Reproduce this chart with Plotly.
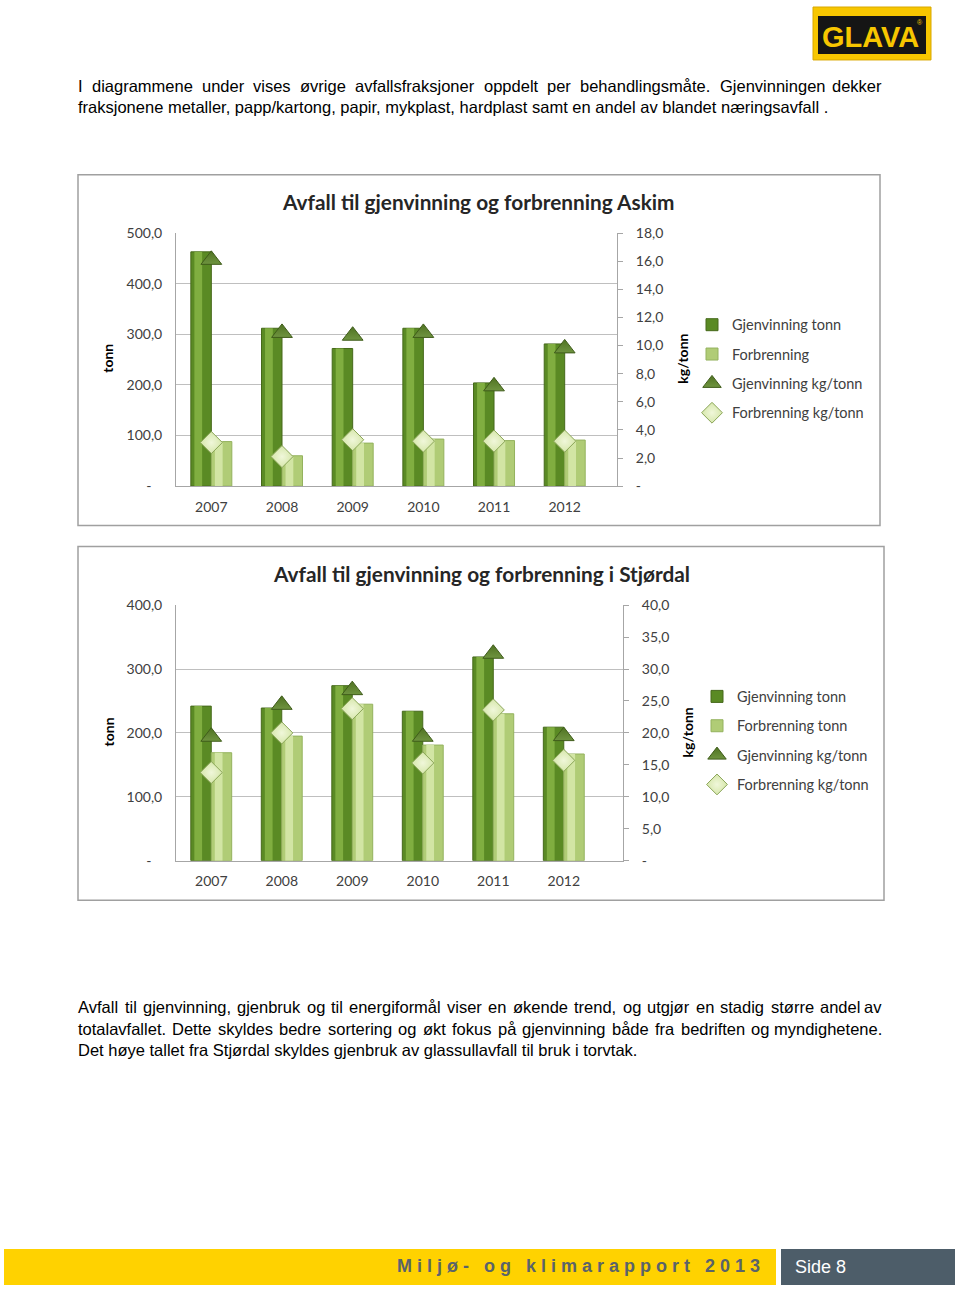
import plotly.graph_objects as go

# ---------------- data ----------------
years = ["2007", "2008", "2009", "2010", "2011", "2012"]

askim_gjen_tonn = [463, 312, 272, 312, 204, 281]
askim_forb_tonn = [88, 60, 85, 93, 90, 91]
askim_gjen_kg = [16.1, 10.9, 10.7, 10.9, 7.1, 9.8]
askim_forb_kg = [3.1, 2.1, 3.3, 3.2, 3.2, 3.2]

stj_gjen_tonn = [242, 239, 274, 234, 319, 209]
stj_forb_tonn = [169, 195, 245, 181, 230, 167]
stj_gjen_kg = [19.4, 24.4, 26.7, 19.4, 32.4, 19.5]
stj_forb_kg = [13.8, 20.0, 23.8, 15.3, 23.6, 15.7]

askim_left_vals = [0, 100, 200, 300, 400, 500]
askim_left_text = ["-\u00a0\u00a0\u00a0", "100,0", "200,0", "300,0", "400,0", "500,0"]
askim_right_vals = [0, 2, 4, 6, 8, 10, 12, 14, 16, 18]
askim_right_text = ["-", "2,0", "4,0", "6,0", "8,0", "10,0", "12,0", "14,0", "16,0", "18,0"]

stj_left_vals = [0, 100, 200, 300, 400]
stj_left_text = ["-\u00a0\u00a0\u00a0", "100,0", "200,0", "300,0", "400,0"]
stj_right_vals = [0, 5, 10, 15, 20, 25, 30, 35, 40]
stj_right_text = ["-", "5,0", "10,0", "15,0", "20,0", "25,0", "30,0", "35,0", "40,0"]

legend_askim = ["Gjenvinning tonn", "Forbrenning", "Gjenvinning kg/tonn", "Forbrenning kg/tonn"]
legend_stj = ["Gjenvinning tonn", "Forbrenning tonn", "Gjenvinning kg/tonn", "Forbrenning kg/tonn"]

para_top = [
    "I diagrammene under vises øvrige avfallsfraksjoner oppdelt per behandlingsmåte. Gjenvinningen dekker",
    "fraksjonene metaller, papp/kartong, papir, mykplast, hardplast samt en andel av blandet næringsavfall .",
]
para_bottom = [
    "Avfall til gjenvinning, gjenbruk og til energiformål viser en økende trend, og utgjør en stadig større andel av",
    "totalavfallet. Dette skyldes bedre sortering og økt fokus på gjenvinning både fra bedriften og myndighetene.",
    "Det høye tallet fra Stjørdal skyldes gjenbruk av glassullavfall til bruk i torvtak.",
]

W, H = 960, 1290
# vertical placement helper (target positions measured on the page)
YOFF, YSC = 8.0, 0.9876
def px(x): return x / W
def py(y): return 1 - ((y - YOFF) / YSC) / H

DARK = "#5a8a24"
DARK_IN = "#80ae40"
DARK_LINE = "#46691b"
LIGHT = "#b0cc76"
LIGHT_IN = "#d2e5a4"
LIGHT_LINE = "#94b25e"
TRI = "#4f7222"
DIA = "#d6e7ab"

CHART_FONT = "Lato"
TICK_FONT = dict(family=CHART_FONT, size=14, color="#404040")

fig = go.Figure()

BW = 0.29

def add_chart(xa, ya, ya2, g_t, f_t, g_k, f_k, names, legend):
    fig.add_trace(go.Bar(x=years, y=g_t, width=BW, offset=-BW, xaxis=xa, yaxis=ya,
                         marker=dict(color=DARK, line=dict(color=DARK_LINE, width=1)),
                         name=names[0], legend=legend, legendgroup=legend + "a", hoverinfo="skip"))
    fig.add_trace(go.Bar(x=years, y=g_t, width=0.11, offset=-BW + 0.05, xaxis=xa, yaxis=ya,
                         marker=dict(color=DARK_IN, line=dict(width=0)),
                         showlegend=False, legend=legend, hoverinfo="skip"))
    fig.add_trace(go.Bar(x=years, y=f_t, width=BW, offset=0, xaxis=xa, yaxis=ya,
                         marker=dict(color=LIGHT, line=dict(color=LIGHT_LINE, width=1)),
                         name=names[1], legend=legend, legendgroup=legend + "b", hoverinfo="skip"))
    fig.add_trace(go.Bar(x=years, y=f_t, width=0.11, offset=0.05, xaxis=xa, yaxis=ya,
                         marker=dict(color=LIGHT_IN, line=dict(width=0)),
                         showlegend=False, legend=legend, hoverinfo="skip"))
    fig.add_trace(go.Scatter(x=years, y=g_k, mode="markers", xaxis=xa, yaxis=ya2,
                             marker=dict(symbol="triangle-up", size=18, color=TRI,
                                         gradient=dict(type="vertical", color="#6f9440"),
                                         line=dict(color="#3f5c1a", width=1)),
                             name=names[2], legend=legend, legendgroup=legend + "c", hoverinfo="skip"))
    fig.add_trace(go.Scatter(x=years, y=f_k, mode="markers", xaxis=xa, yaxis=ya2,
                             marker=dict(symbol="diamond", size=17, color=DIA,
                                         gradient=dict(type="radial", color="#f0f7da"),
                                         line=dict(color="#8aa558", width=1)),
                             name=names[3], legend=legend, legendgroup=legend + "d", hoverinfo="skip"))

add_chart("x", "y", "y2", askim_gjen_tonn, askim_forb_tonn, askim_gjen_kg, askim_forb_kg, legend_askim, "legend")
add_chart("x2", "y3", "y4", stj_gjen_tonn, stj_forb_tonn, stj_gjen_kg, stj_forb_kg, legend_stj, "legend2")

AX = "#a6a6a6"
GRID = "#bfbfbf"
LEG_FONT = dict(family=CHART_FONT, size=14.5, color="#404040")

fig.update_layout(
    width=W, height=H, margin=dict(l=0, r=0, t=0, b=0), autosize=False,
    paper_bgcolor="white", plot_bgcolor="rgba(0,0,0,0)",
    barmode="overlay", showlegend=True,
    xaxis=dict(domain=[px(176), px(617)], anchor="y", type="category", range=[-0.5, 5.74],
               showline=True, linecolor=AX, ticks="", tickfont=TICK_FONT, showgrid=False,
               ticklabelstandoff=8),
    yaxis=dict(domain=[py(485.5), py(232.3)], anchor="x", range=[0, 500],
               tickvals=askim_left_vals, ticktext=askim_left_text, tickfont=TICK_FONT,
               showgrid=True, gridcolor=GRID, showline=True, linecolor=AX, ticks="",
               ticklabelstandoff=10, zeroline=False),
    yaxis2=dict(overlaying="y", side="right", anchor="x", range=[0, 18],
                tickvals=askim_right_vals, ticktext=askim_right_text, tickfont=TICK_FONT,
                showgrid=False, showline=True, linecolor=AX, ticks="outside", ticklen=5,
                tickcolor=AX, ticklabelstandoff=10, zeroline=False),
    xaxis2=dict(domain=[px(176), px(623)], anchor="y3", type="category", range=[-0.5, 5.84],
                showline=True, linecolor=AX, ticks="", tickfont=TICK_FONT, showgrid=False,
                ticklabelstandoff=8),
    yaxis3=dict(domain=[py(860.3), py(604.7)], anchor="x2", range=[0, 400],
                tickvals=stj_left_vals, ticktext=stj_left_text, tickfont=TICK_FONT,
                showgrid=True, gridcolor=GRID, showline=True, linecolor=AX, ticks="",
                ticklabelstandoff=10, zeroline=False),
    yaxis4=dict(overlaying="y3", side="right", anchor="x2", range=[0, 40],
                tickvals=stj_right_vals, ticktext=stj_right_text, tickfont=TICK_FONT,
                showgrid=False, showline=True, linecolor=AX, ticks="outside", ticklen=5,
                tickcolor=AX, ticklabelstandoff=10, zeroline=False),
    legend=dict(x=px(692), y=py(308), xanchor="left", yanchor="top", font=LEG_FONT,
                traceorder="grouped", tracegroupgap=7.5, bgcolor="rgba(0,0,0,0)", itemwidth=30),
    legend2=dict(x=px(697), y=py(680), xanchor="left", yanchor="top", font=LEG_FONT,
                 traceorder="grouped", tracegroupgap=7.5, bgcolor="rgba(0,0,0,0)", itemwidth=30),
)

shapes = []
shapes.append(dict(type="rect", xref="paper", yref="paper", x0=px(78), x1=px(880), y0=py(525), y1=py(174),
                   line=dict(color="#a0a0a0", width=1.5), layer="below"))
shapes.append(dict(type="rect", xref="paper", yref="paper", x0=px(78), x1=px(884), y0=py(900), y1=py(546),
                   line=dict(color="#a0a0a0", width=1.5), layer="below"))
shapes.append(dict(type="rect", xref="paper", yref="paper", x0=px(4), x1=px(776), y0=py(1285), y1=py(1249),
                   fillcolor="#FFD200", line=dict(width=0)))
shapes.append(dict(type="rect", xref="paper", yref="paper", x0=px(781), x1=px(955), y0=py(1285), y1=py(1249),
                   fillcolor="#4d5d69", line=dict(width=0)))
shapes.append(dict(type="rect", xref="paper", yref="paper", x0=px(813), x1=px(931), y0=py(59), y1=py(6),
                   fillcolor="#F7C600", line=dict(color="#d9a800", width=1)))
shapes.append(dict(type="rect", xref="paper", yref="paper", x0=px(818), x1=px(926), y0=py(53), y1=py(15),
                   fillcolor="#151515", line=dict(width=0)))
fig.update_layout(shapes=shapes)

# ---------- text ----------
ARIAL_W = {" ": 278, ",": 278, "-": 333, ".": 278, "/": 278, ":": 278,
           "A": 667, "B": 667, "C": 722, "D": 722, "E": 667, "F": 611, "G": 778, "H": 722, "I": 278,
           "J": 500, "K": 667, "L": 556, "M": 833, "N": 722, "O": 778, "P": 667, "R": 722, "S": 667,
           "T": 611, "U": 722, "V": 667, "W": 944,
           "a": 556, "b": 556, "c": 500, "d": 556, "e": 556, "f": 278, "g": 556, "h": 556, "i": 222,
           "j": 222, "k": 500, "l": 222, "m": 833, "n": 556, "o": 556, "p": 556, "q": 556, "r": 333,
           "s": 500, "t": 278, "u": 556, "v": 500, "w": 722, "x": 500, "y": 500, "z": 500,
           "æ": 889, "ø": 611, "å": 556}

BODY_SIZE = 16.5
BODY = dict(family="Liberation Sans, Arial", size=BODY_SIZE, color="#000000")
X0, X1 = 77, 883

def text_w(s):
    return sum(ARIAL_W.get(c, 556) for c in s) * BODY_SIZE / 1000.0

ann = []

def body_line(line, y, justify):
    if not justify:
        ann.append(dict(text=line, x=px(X0), y=py(y), xref="paper", yref="paper", borderpad=0,
                        xanchor="left", yanchor="middle", showarrow=False, font=BODY))
        return
    words = line.split(" ")
    widths = [text_w(w) for w in words]
    gap = (X1 - X0 - sum(widths)) / (len(words) - 1)
    x = X0
    for i, (w, wd) in enumerate(zip(words, widths)):
        if i == len(words) - 1:
            ann.append(dict(text=w, x=px(X1), y=py(y), xref="paper", yref="paper", borderpad=0,
                            xanchor="right", yanchor="middle", showarrow=False, font=BODY))
        else:
            ann.append(dict(text=w, x=px(x), y=py(y), xref="paper", yref="paper", borderpad=0,
                            xanchor="left", yanchor="middle", showarrow=False, font=BODY))
        x += wd + gap

for i, line in enumerate(para_top):
    body_line(line, 85 + i * 21.5, i < len(para_top) - 1)
for i, line in enumerate(para_bottom):
    body_line(line, 1007 + i * 21.5, i < len(para_bottom) - 1)

TITLE = dict(family=CHART_FONT, size=20.8, color="#262626")
ann.append(dict(text="<b>Avfall til gjenvinning og forbrenning Askim</b>", x=px(478), y=py(201),
                xref="paper", yref="paper", xanchor="center", yanchor="middle", showarrow=False, font=TITLE))
ann.append(dict(text="<b>Avfall til gjenvinning og forbrenning i Stjørdal</b>", x=px(481), y=py(573),
                xref="paper", yref="paper", xanchor="center", yanchor="middle", showarrow=False, font=TITLE))

AXT = dict(family=CHART_FONT, size=14, color="#000000")
for (x, y, t) in [(108, 358, "tonn"), (683, 358, "kg/tonn"), (108, 732, "tonn"), (687, 732, "kg/tonn")]:
    ann.append(dict(text="<b>" + t + "</b>", x=px(x), y=py(y), xref="paper", yref="paper",
                    xanchor="center", yanchor="middle", showarrow=False, textangle=-90, font=AXT))

ann.append(dict(text="<b>GLAVA</b>", x=px(870), y=py(36), xref="paper", yref="paper",
                xanchor="center", yanchor="middle", showarrow=False,
                font=dict(family="Liberation Sans, Arial", size=29, color="#F7C600")))
ann.append(dict(text="®", x=px(920), y=py(22), xref="paper", yref="paper",
                xanchor="center", yanchor="middle", showarrow=False,
                font=dict(family="Liberation Sans, Arial", size=7, color="#F7C600")))

footer_words = ["Miljø-", "og", "klimarapport", "2013"]
footer = "\u00a0\u00a0\u00a0".join(" ".join(list(w)) for w in footer_words)
ann.append(dict(text="<b>" + footer + "</b>", x=px(762), y=py(1266), xref="paper", yref="paper",
                xanchor="right", yanchor="middle", showarrow=False,
                font=dict(family="Liberation Sans, Arial", size=18, color="#5a636a")))
ann.append(dict(text="Side 8", x=px(793), y=py(1267), xref="paper", yref="paper",
                xanchor="left", yanchor="middle", showarrow=False,
                font=dict(family="Liberation Sans, Arial", size=18, color="#ffffff")))

fig.update_layout(annotations=ann)

fig.write_html("out.html", config=dict(displayModeBar=False, responsive=False),
               post_script="document.body.style.margin='0';document.documentElement.style.margin='0';")
